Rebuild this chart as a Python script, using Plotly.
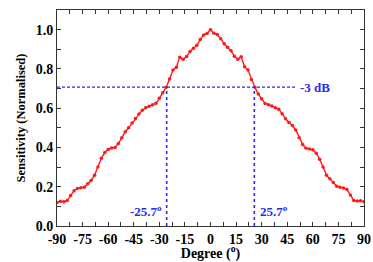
import plotly.graph_objects as go

degree = [-90, -88, -86, -84, -82, -80, -78, -76, -74, -72, -70, -68, -66, -64, -62, -60,
          -58, -56, -54, -52, -50, -48, -46, -44, -42, -40, -38, -36, -34, -32, -30, -28,
          -26, -24, -22, -20, -18, -16, -14, -12, -10, -8, -6, -4, -2, 0, 2, 4, 6, 8, 10,
          12, 14, 16, 18, 20, 22, 24, 26, 28, 30, 32, 34, 36, 38, 40, 42, 44, 46, 48, 50,
          52, 54, 56, 58, 60, 62, 64, 66, 68, 70, 72, 74, 76, 78, 80, 82, 84, 86, 88, 90]
sensitivity = [0.120, 0.126, 0.124, 0.130, 0.155, 0.180, 0.191, 0.195, 0.197, 0.215, 0.232,
               0.259, 0.300, 0.345, 0.374, 0.390, 0.397, 0.400, 0.420, 0.449, 0.480, 0.500,
               0.524, 0.548, 0.570, 0.590, 0.602, 0.610, 0.617, 0.625, 0.650, 0.678, 0.707,
               0.748, 0.794, 0.808, 0.860, 0.849, 0.863, 0.889, 0.905, 0.920, 0.950, 0.973,
               0.980, 1.000, 0.981, 0.975, 0.954, 0.928, 0.910, 0.893, 0.865, 0.849, 0.862,
               0.811, 0.794, 0.746, 0.707, 0.672, 0.648, 0.624, 0.618, 0.611, 0.602, 0.594,
               0.572, 0.546, 0.527, 0.512, 0.489, 0.450, 0.415, 0.396, 0.392, 0.388, 0.371,
               0.340, 0.300, 0.259, 0.240, 0.222, 0.203, 0.197, 0.194, 0.186, 0.158, 0.130,
               0.127, 0.128, 0.124]

half_power_level = 0.707
half_power_angles = [-25.7, 25.7]
hline_end = 50
x_ticks = list(range(-90, 91, 15))
y_ticks = [0.0, 0.2, 0.4, 0.6, 0.8, 1.0]

blue = "#2a2af0"
font_family = "Liberation Serif"

fig = go.Figure()

fig.add_trace(go.Scatter(
    x=degree, y=sensitivity, mode="lines+markers",
    line=dict(color="#ff1a1a", width=1.4),
    marker=dict(color="#ff1a1a", size=3.5),
    showlegend=False, hoverinfo="skip",
))

# -3 dB horizontal dashed line
fig.add_trace(go.Scatter(
    x=[-90, hline_end], y=[half_power_level, half_power_level], mode="lines",
    line=dict(color=blue, width=1.3, dash="3px,2px"), showlegend=False, hoverinfo="skip",
))
# vertical dotted lines
for a in half_power_angles:
    fig.add_trace(go.Scatter(
        x=[a, a], y=[0, half_power_level], mode="lines",
        line=dict(color=blue, width=1.6, dash="dot"), showlegend=False, hoverinfo="skip",
    ))

fig.add_annotation(x=hline_end + 1.5, y=half_power_level, text="<b>-3 dB</b>", showarrow=False,
                   xanchor="left", yanchor="middle",
                   font=dict(family=font_family, size=13, color=blue))
fig.add_annotation(x=half_power_angles[0] - 1.5, y=0.075, text="<b>-25.7<sup>o</sup></b>",
                   showarrow=False, xanchor="right", yanchor="middle",
                   font=dict(family=font_family, size=13, color=blue))
fig.add_annotation(x=half_power_angles[1] + 2, y=0.075, text="<b>25.7<sup>o</sup></b>",
                   showarrow=False, xanchor="left", yanchor="middle",
                   font=dict(family=font_family, size=13, color=blue))

axis_common = dict(
    showline=True, linecolor="#333333", linewidth=1, mirror="ticks",
    ticks="inside", ticklen=4, tickcolor="#333333", showgrid=False, zeroline=False,
    automargin=False,
    tickfont=dict(family=font_family, size=14, color="black"),
)

fig.update_xaxes(
    range=[-90, 90], tickvals=x_ticks, ticktext=[f"<b>{v}</b>" for v in x_ticks],
    minor=dict(dtick=7.5, tick0=-90, ticks="inside", ticklen=4, tickcolor="#333333"),
    title=dict(text="<b>Degree (<sup>o</sup>)</b>", font=dict(family=font_family, size=14, color="black"),
               standoff=4),
    **axis_common,
)
fig.update_yaxes(
    range=[0, 1.1], tickvals=y_ticks, ticktext=[f"<b>{v:.1f}</b>" for v in y_ticks],
    minor=dict(dtick=0.1, tick0=0, ticks="inside", ticklen=4, tickcolor="#333333"),
    title=dict(text="<b>Sensitivity (Normalised)</b>", font=dict(family=font_family, size=12.5, color="black"),
               standoff=7),
    **axis_common,
)

fig.update_layout(
    width=373, height=262,
    margin=dict(l=57, r=9, t=10, b=36),
    plot_bgcolor="white", paper_bgcolor="white",
)

fig.write_html("out.html", config={"displayModeBar": False},
               post_script="document.body.style.margin='0px';")
